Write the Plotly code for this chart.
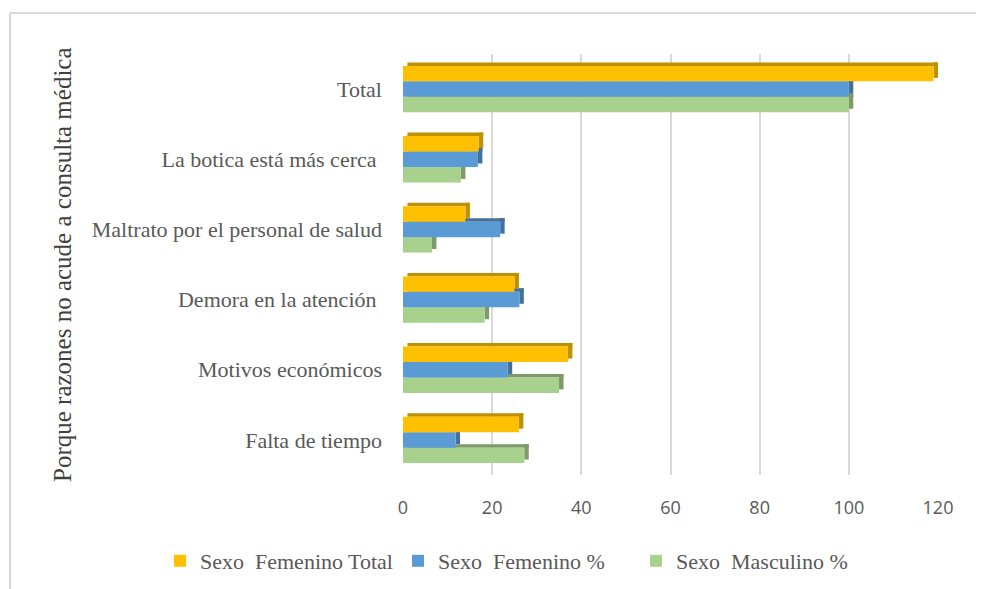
import plotly.graph_objects as go

# Datos (de arriba hacia abajo)
categorias = ["Total", "La botica está más cerca ", "Maltrato por el personal de salud",
              "Demora en la atención ", "Motivos económicos", "Falta de tiempo"]
fem_total = [119, 17, 14, 25, 37, 26]
fem_pct = [100, 16.8, 21.8, 26.1, 23.5, 11.8]
masc_pct = [100, 13.0, 6.5, 18.3, 35.0, 27.2]
nombres = ["Sexo\u00a0 Femenino Total", "Sexo\u00a0 Femenino %", "Sexo\u00a0 Masculino %"]
x_ticks = [0, 20, 40, 60, 80, 100, 120]

# Colores (cara frontal, cara oscura 3D)
colores = ["#FFC000", "#5B9BD5", "#A9D18E"]
oscuros = ["#BF9000", "#41719C", "#7C9B68"]

SERIF = "Liberation Serif, Times New Roman, DejaVu Serif, serif"

# la pagina tiene 8px de margen en el body
OFF = 8
W, H = 984 - OFF, 589 - OFF
L, R, T, B = 403 - OFF, 46, 54 - OFF, 114
pw, ph = W - L - R, H - T - B


def px_x(p):
    # p en pixeles de la captura
    return (p - OFF - L) / pw


def px_y(p):
    return (H - B - (p - OFF)) / ph


ancho = 0.22
franja = 0.05
prof = 1.0
offsets = [-0.33, -0.11, 0.11]
series = [fem_total, fem_pct, masc_pct]

fig = go.Figure()

# dibujar de abajo (verde) hacia arriba (amarillo) para simular el efecto 3D
for i in [2, 1, 0]:
    vals = series[i]
    # cara superior
    fig.add_trace(go.Bar(y=categorias, x=vals, base=[prof] * len(vals), orientation="h",
                         offset=offsets[i] - franja, width=franja,
                         marker=dict(color=oscuros[i], line=dict(width=0)),
                         showlegend=False, hoverinfo="skip"))
    # cara lateral
    fig.add_trace(go.Bar(y=categorias, x=[prof] * len(vals), base=vals, orientation="h",
                         offset=offsets[i] - franja, width=ancho,
                         marker=dict(color=oscuros[i], line=dict(width=0)),
                         showlegend=False, hoverinfo="skip"))
    # cara frontal
    fig.add_trace(go.Bar(y=categorias, x=vals, orientation="h", name=nombres[i],
                         offset=offsets[i], width=ancho,
                         marker=dict(color=colores[i], line=dict(width=0)),
                         legendrank=i + 1))

fig.update_layout(
    width=W, height=H,
    margin=dict(l=L, r=R, t=T, b=B, autoexpand=False),
    barmode="overlay",
    plot_bgcolor="white", paper_bgcolor="white",
    font=dict(family=SERIF, color="#595959", size=18),
    showlegend=True,
    legend=dict(orientation="h", xref="paper", yref="paper",
                x=px_x(160), xanchor="left", y=px_y(561), yanchor="middle",
                font=dict(family=SERIF, size=22, color="#595959"),
                traceorder="normal", itemwidth=30, entrywidth=193, entrywidthmode="pixels",
                bgcolor="rgba(0,0,0,0)"),
)

fig.update_xaxes(range=[0, 120], tickvals=x_ticks, showgrid=True, gridcolor="#D9D9D9", gridwidth=2,
                 zeroline=False, showline=False, ticks="",
                 tickfont=dict(family="Open Sans", size=18, color="#595959"),
                 ticklabelstandoff=20)
fig.update_yaxes(categoryorder="array", categoryarray=categorias, autorange="reversed",
                 showgrid=False, zeroline=False, showline=False, ticks="",
                 tickfont=dict(family=SERIF, size=22, color="#595959"),
                 ticklabelstandoff=20)

# titulo del eje vertical
fig.add_annotation(text="Porque razones no acude a consulta médica", xref="paper", yref="paper",
                   x=px_x(62), y=px_y(265), textangle=-90, showarrow=False,
                   xanchor="center", yanchor="middle",
                   font=dict(family=SERIF, size=25, color="#404040"))

# borde del area del grafico
fig.add_shape(type="line", xref="paper", yref="paper", x0=px_x(10), x1=px_x(10),
              y0=px_y(13), y1=px_y(620), line=dict(color="#D9D9D9", width=2))
fig.add_shape(type="line", xref="paper", yref="paper", x0=px_x(10), x1=px_x(1020),
              y0=px_y(13), y1=px_y(13), line=dict(color="#D9D9D9", width=2))

fig.write_html("out.html")
